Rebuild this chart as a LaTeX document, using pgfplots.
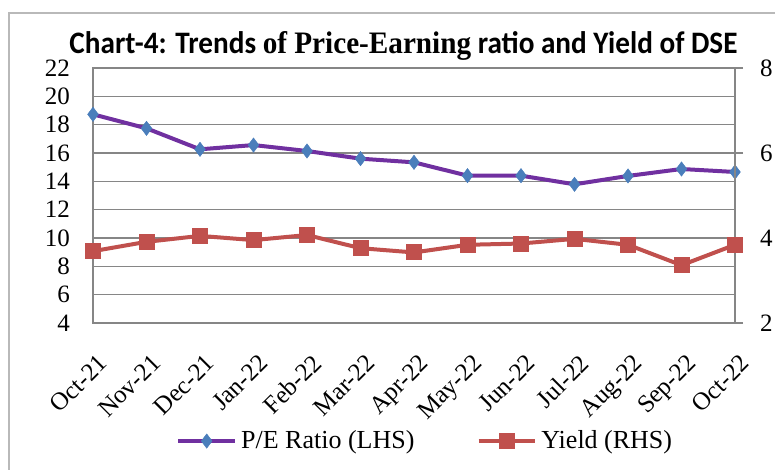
\documentclass[border=0pt]{standalone}
\usepackage{fontspec}
\setmainfont{Liberation Serif}
\newfontfamily\carlito{Carlito}
\usepackage{graphicx}
\usepackage{pgfplots}
\pgfplotsset{compat=1.18}

\definecolor{pepurple}{HTML}{7030A0}
\definecolor{peblue}{HTML}{4A7EBB}
\definecolor{yred}{HTML}{C0504D}
\definecolor{gridgray}{HTML}{868686}

\begin{document}
\begin{tikzpicture}
\useasboundingbox (-46.5pt,-73.5pt) rectangle (341pt,161.5pt);
\draw[gray!55, line width=1pt] (-42pt,-100pt) rectangle (380pt,155pt);
\node[anchor=base, inner sep=0pt] at (155.25pt,134.5pt) {\resizebox{334pt}{11pt}{\bfseries\carlito Chart-4: Trends {\rmfamily of Price-Earning} ratio and Yield of DSE}};
\begin{axis}[
  at={(0,0)}, anchor=south west,
  scale only axis, width=321pt, height=127.5pt,
  xmin=0, xmax=12, ymin=4, ymax=22,
  ytick={4,6,...,22},
  xtick={0,...,12},
  xticklabels={Oct-21,Nov-21,Dec-21,Jan-22,Feb-22,Mar-22,Apr-22,May-22,Jun-22,Jul-22,Aug-22,Sep-22,Oct-22},
  ymajorgrids,
  grid style={gridgray, line width=0.7pt},
  axis line style={gridgray, line width=0.7pt},
  major tick length=0pt,
  tick style={draw=none},
  /pgf/number format/assume math mode=true,
  tick label style={font=\fontsize{12.5}{14}\selectfont},
  yticklabel style={xshift=-8pt},
  xticklabel style={xshift=2pt, yshift=-10pt, rotate=45, anchor=north east},
]
\addplot[pepurple, line width=2pt, mark=diamond*, mark size=3.6pt,
  mark options={fill=peblue, draw=peblue, line width=0.2pt}]
  coordinates {(0,18.73) (1,17.74) (2,16.26) (3,16.56) (4,16.14) (5,15.6) (6,15.34)
               (7,14.4) (8,14.4) (9,13.79) (10,14.38) (11,14.87) (12,14.66)};
\end{axis}
\begin{axis}[
  at={(0,0)}, anchor=south west,
  scale only axis, width=321pt, height=127.5pt,
  xmin=0, xmax=12, ymin=2, ymax=8,
  ytick={2,4,6,8},
  axis y line*=right, axis x line=none,
  axis line style={gridgray, line width=0.7pt},
  tick style={gridgray, line width=0.7pt},
  major tick length=4pt, tick align=outside,
  /pgf/number format/assume math mode=true,
  tick label style={font=\fontsize{12.5}{14}\selectfont},
  yticklabel style={anchor=west, xshift=5pt},
  legend style={at={(0.519,-0.463)}, anchor=center, draw=none, fill=none,
    legend columns=2, font=\fontsize{13}{15}\selectfont,
    /tikz/every odd column/.append style={inner xsep=1pt}},
  legend image code/.code={\draw[mark repeat=2, mark phase=2] plot coordinates {(0cm,0cm) (0.5cm,0cm) (1cm,0cm)};},
]
\addlegendimage{pepurple, line width=2pt, mark=diamond*, mark size=3.6pt,
  mark options={fill=peblue, draw=peblue, line width=0.2pt}}
\addlegendentry{P/E Ratio (LHS)\rule{29pt}{0pt}}
\addplot[yred, line width=2pt, mark=square*, mark size=3pt,
  mark options={fill=yred, draw=yred}]
  coordinates {(0,3.69) (1,3.91) (2,4.05) (3,3.95) (4,4.07) (5,3.76) (6,3.66)
               (7,3.84) (8,3.87) (9,3.98) (10,3.84) (11,3.36) (12,3.84)};
\addlegendentry{Yield (RHS)}
\end{axis}
\end{tikzpicture}
\end{document}
